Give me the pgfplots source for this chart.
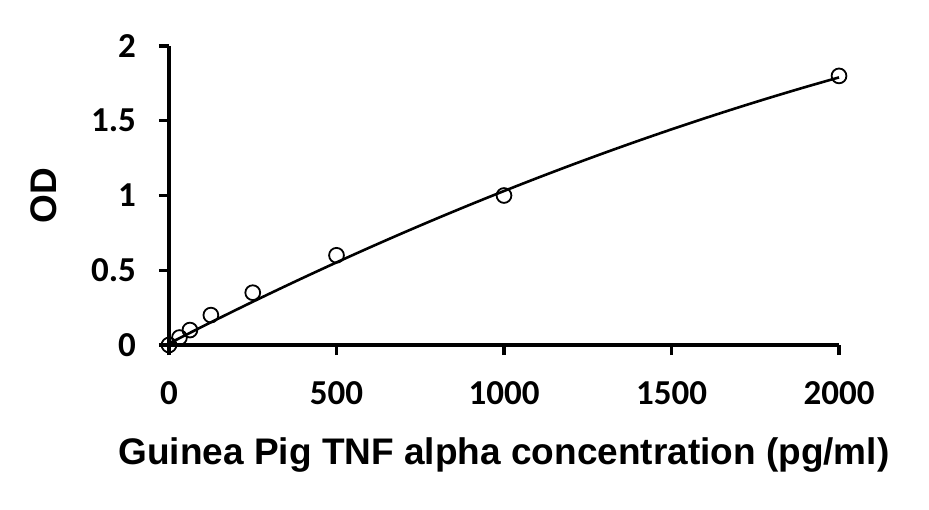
\documentclass[border=0pt]{standalone}
\usepackage{pgfplots}
\pgfplotsset{compat=1.18}
\usepackage{fontspec}
\setmainfont{Liberation Sans}
\newfontfamily\tickfont{Carlito}
\begin{document}
\begin{tikzpicture}
\begin{axis}[
  scale only axis,
  width=335pt, height=149.5pt,
  xmin=0, xmax=2000, ymin=0, ymax=2,
  axis x line*=bottom, axis y line*=left,
  axis line style={line width=1.6pt, -},
  tick align=outside,
  major tick length=5pt,
  tick style={line width=1.6pt, black},
  xtick={0,500,1000,1500,2000},
  ytick={0,0.5,1,1.5,2},
  yticklabels={0,0.5,1,1.5,2},
  xticklabels={0,500,1000,1500,2000},
  ticklabel style={font=\tickfont\bfseries\fontsize{17.5}{20}\selectfont},
  xticklabel style={yshift=-9.5pt},
  yticklabel style={xshift=-8pt},
  xlabel={Guinea Pig TNF alpha concentration (pg/ml)},
  ylabel={OD},
  label style={font=\bfseries\fontsize{18.5}{22}\selectfont},
  xlabel style={yshift=-10pt},
  ylabel style={yshift=10.5pt},
  clip=false,
]
\addplot[black, line width=1.3pt, smooth] coordinates {
(0,0.010) (100,0.1237) (200,0.2348) (300,0.3433) (400,0.4492) (500,0.5525)
(600,0.6532) (700,0.7513) (800,0.8468) (900,0.9397) (1000,1.03)
(1100,1.1177) (1200,1.2028) (1300,1.2853) (1400,1.3652) (1500,1.4425)
(1600,1.5172) (1700,1.5893) (1800,1.6588) (1900,1.7257) (2000,1.79)};
\addplot[only marks, mark=o, mark size=3.7pt, mark options={line width=0.9pt, fill=white, draw=black}] coordinates {
(0,0) (31.25,0.05) (62.5,0.1) (125,0.2) (250,0.35) (500,0.6) (1000,1.0) (2000,1.8)};
\end{axis}
\path[use as bounding box] (-84.5pt,-82pt) rectangle (380pt,172.5pt);
\end{tikzpicture}
\end{document}
